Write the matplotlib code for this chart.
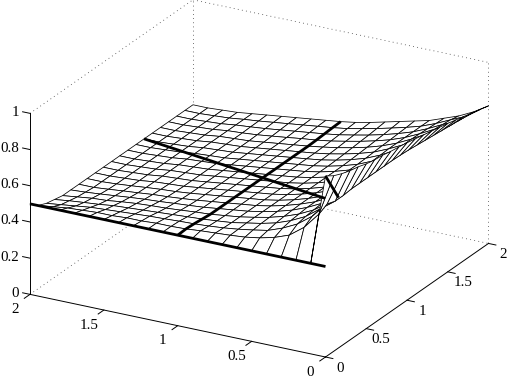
import numpy as np
import matplotlib
matplotlib.use("Agg")
import matplotlib.pyplot as plt
from mpl_toolkits.mplot3d import proj3d

x_grid = [i / 10 for i in range(21)]
y_grid = [i / 10 for i in range(21)]

# surface heights: one list per y grid value, entries for x = 0, 0.1, ... 2
u_rows = [
    [1.0,.97,.95,.935,.925,.91,.90,.895,.885,.878,.87,.86,.85,.84,.83,.82,.808,.796,.784,.772,.76],
    [.50,.74,.765,.75,.75,.755,.755,.755,.755,.755,.755,.753,.75,.745,.74,.735,.73,.725,.72,.715,.71],
    [.50,.65,.68,.69,.69,.695,.70,.70,.70,.705,.708,.71,.71,.708,.705,.70,.695,.69,.685,.68,.67],
    [.50,.59,.62,.63,.635,.64,.642,.645,.647,.649,.65,.65,.65,.65,.65,.65,.65,.648,.645,.642,.64],
    [.50,.56,.58,.59,.595,.60,.60,.60,.60,.60,.60,.60,.602,.605,.607,.61,.61,.61,.61,.61,.61],
    [.50,.54,.55,.56,.565,.568,.57,.57,.57,.57,.57,.57,.57,.57,.572,.575,.578,.58,.583,.586,.59],
    [.50,.527,.535,.54,.542,.544,.545,.545,.545,.545,.545,.545,.545,.545,.547,.55,.553,.557,.56,.565,.57],
    [.50,.52,.522,.525,.525,.525,.525,.525,.525,.525,.525,.525,.525,.525,.527,.53,.533,.537,.54,.545,.55],
    [.50,.515,.512,.51,.51,.51,.51,.51,.51,.51,.51,.51,.51,.51,.511,.513,.516,.52,.523,.527,.53],
    [.50,.51,.505,.502,.50,.50,.50,.50,.50,.50,.50,.50,.50,.50,.50,.50,.502,.504,.507,.51,.513],
    [.50,.503,.50,.495,.49,.49,.49,.49,.49,.49,.49,.49,.49,.49,.49,.49,.49,.492,.495,.498,.50],
    [.50,.50,.497,.49,.485,.48,.48,.48,.48,.48,.48,.48,.48,.48,.48,.48,.48,.483,.485,.488,.49],
    [.50,.50,.493,.485,.478,.473,.47,.47,.47,.47,.47,.47,.47,.47,.47,.47,.47,.472,.475,.478,.48],
    [.50,.495,.49,.48,.472,.467,.462,.46,.46,.46,.46,.46,.46,.46,.46,.46,.46,.462,.465,.468,.47],
    [.50,.495,.485,.475,.468,.46,.455,.452,.45,.45,.45,.45,.45,.45,.45,.45,.45,.452,.455,.458,.46],
    [.50,.49,.48,.47,.463,.455,.45,.447,.445,.445,.445,.445,.445,.445,.445,.445,.445,.445,.447,.448,.45],
    [.50,.49,.475,.465,.455,.448,.442,.44,.44,.44,.44,.44,.44,.44,.44,.44,.44,.44,.44,.44,.44],
    [.50,.485,.47,.455,.445,.44,.435,.432,.43,.43,.43,.43,.43,.43,.43,.43,.43,.43,.43,.43,.43],
    [.50,.48,.46,.448,.44,.432,.427,.425,.425,.425,.425,.425,.425,.425,.425,.425,.425,.425,.425,.425,.425],
    [.50,.47,.45,.44,.43,.425,.42,.42,.42,.42,.42,.42,.42,.42,.42,.42,.42,.42,.42,.42,.42],
    [.50,.46,.44,.43,.42,.42,.42,.42,.42,.42,.42,.42,.42,.42,.42,.42,.42,.42,.42,.42,.42],
]

# heavy lines on the surface (x, y, z)
heavy_edge = ([0, 0], [2, 0], [.50, .50])
heavy_cut = ([1.4, .43], [2, .24], [.42, .70])
heavy_ridge = ([0, .16], [0, 0], [1.0, .83])
heavy_row_y = 1.0

x_ticks = [0, .5, 1, 1.5, 2]
y_ticks = [0, .5, 1, 1.5, 2]
z_ticks = [0, .2, .4, .6, .8, 1]
x_labels = ["0", "0.5", "1", "1.5", "2"]
y_labels = ["0", "0.5", "1", "1.5", "2"]
z_labels = ["0", "0.2", "0.4", "0.6", "0.8", "1"]

W, H = 507, 382
fig = plt.figure(figsize=(W / 100, H / 100), dpi=100)
ax = fig.add_axes([0, 0, 1, 1], projection="3d", computed_zorder=False)
ax.set_proj_type("ortho")
ax.view_init(elev=22.6, azim=208.88)
ax.set_box_aspect((1, 1, 0.581))
ax.set_axis_off()

X, Y = np.meshgrid(x_grid, y_grid)
Z = np.array(u_rows)

dot = dict(color="#444444", lw=0.6, linestyle=(0, (1, 4)), zorder=1)
for seg in [([0, 2], [2, 2], [1, 1]), ([2, 2], [2, 0], [1, 1]),
            ([2, 2], [2, 2], [0, 1]), ([2, 2], [0, 0], [0, 1]),
            ([0, 2], [2, 2], [0, 0]), ([2, 2], [2, 0], [0, 0])]:
    ax.plot(*seg, **dot)

ax.plot_surface(X, Y, Z, rstride=1, cstride=1, color="white", edgecolor="black",
                linewidth=0.55, shade=False, zorder=2)

heavy = dict(color="black", lw=2.0, solid_capstyle="butt", zorder=3)
ax.plot(*heavy_edge, **heavy)
ax.plot(*heavy_cut, **heavy)
ax.plot(*heavy_ridge, **heavy)
row = y_grid.index(heavy_row_y)
ax.plot(x_grid, [heavy_row_y] * len(x_grid), Z[row], **heavy)

thin = dict(color="black", lw=0.7, zorder=4)
ax.plot([0, 2], [0, 0], [0, 0], **thin)
ax.plot([0, 0], [0, 2], [0, 0], **thin)
ax.plot([0, 0], [2, 2], [0, 1], **thin)
for t in x_ticks:
    ax.plot([t, t], [0, -.05], [0, 0], **thin)
for t in y_ticks:
    ax.plot([0, -.07], [t, t], [0, 0], **thin)
for t in z_ticks:
    ax.plot([0, 0], [2, 2.05], [t, t], **thin)

ax.set_xlim(0, 2, view_margin=0)
ax.set_ylim(0, 2, view_margin=0)
ax.set_zlim(0, 1, view_margin=0)

# fit the orthographic box onto the reference's pixel frame
M = ax.get_proj()
def proj(x, y, z):
    a, b, _ = proj3d.proj_transform(x, y, z, M)
    return float(a), float(b)
o = proj(0, 0, 0)
p = proj(0, 2, 0)
s = 295.5 / abs(o[0] - p[0])
vl = ax.viewLim
S = s * vl.width
x0 = 325.5 - (o[0] - vl.x0) * s
y0 = (H - 357) - (o[1] - vl.y0) * s
ax.set_position([x0 / W, y0 / H, S / W, S / H])

font = dict(family="Liberation Serif", fontsize=10.8, ha="center", va="center",
            annotation_clip=False, textcoords="offset pixels")
for t, lab in zip(x_ticks, x_labels):
    ax.annotate(lab, xy=proj(t, 0, 0), xytext=(15, -11), **font)
for t, lab in zip(y_ticks, y_labels):
    ax.annotate(lab, xy=proj(0, t, 0), xytext=(-15, -15), **font)
for t, lab in zip(z_ticks, z_labels):
    off = -15 if lab in ("0", "1") else -20
    ax.annotate(lab, xy=proj(0, 2, t), xytext=(off, 1), **font)

fig.savefig("out.png", dpi=100)
